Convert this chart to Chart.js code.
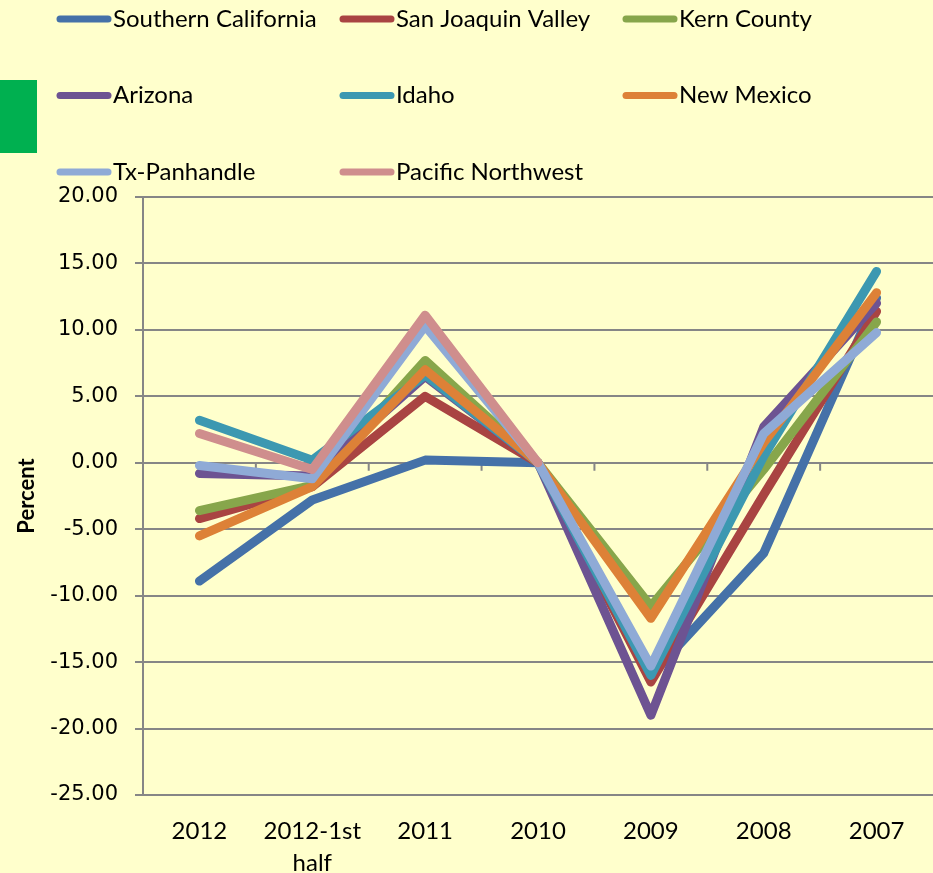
<!DOCTYPE html>
<html>
<head>
<meta charset="utf-8">
<script src="https://cdn.jsdelivr.net/npm/chart.js@4"></script>
<style>
  html, body { margin: 0; padding: 0; background: #FFFFCC; }
  canvas { display: block; }
</style>
</head>
<body>
<canvas id="myChart" width="933" height="873"></canvas>
<script>
// categories along the x axis
var periods = ['2012', ['2012-1st', 'half'], '2011', '2010', '2009', '2008', '2007'];

// series values (percent)
var southernCalifornia = [-8.9, -2.8, 0.2, 0.0, -16.0, -6.8, 12.4];
var sanJoaquinValley   = [-4.2, -1.8, 5.0, 0.0, -16.5, -2.4, 11.4];
var kernCounty         = [-3.6, -1.7, 7.7, 0.0, -10.8, -0.5, 10.6];
var arizona            = [-0.8, -1.0, 6.5, 0.0, -19.0, 2.7, 12.0];
var idaho              = [3.2, 0.2, 6.6, 0.0, -16.0, 0.5, 14.4];
var newMexico          = [-5.5, -1.8, 7.0, 0.0, -11.7, 1.5, 12.8];
var txPanhandle        = [-0.2, -1.2, 10.3, 0.0, -15.3, 2.2, 9.8];
var pacificNorthwest   = [2.2, -0.5, 11.1, 0.0, null, null, null];

var seriesNames = ['Southern California', 'San Joaquin Valley', 'Kern County',
                   'Arizona', 'Idaho', 'New Mexico', 'Tx-Panhandle', 'Pacific Northwest'];
var seriesData = [southernCalifornia, sanJoaquinValley, kernCounty,
                  arizona, idaho, newMexico, txPanhandle, pacificNorthwest];
var seriesColors = ['#4571A8', '#A94442', '#87A64B', '#6D5392',
                    '#3C98B1', '#DD8137', '#8FAAD6', '#CF8E8D'];

var datasets = seriesNames.map(function (name, i) {
    return {
        label: name,
        data: seriesData[i],
        borderColor: seriesColors[i],
        backgroundColor: seriesColors[i],
        borderWidth: 9,
        borderCapStyle: 'round',
        borderJoinStyle: 'round',
        pointRadius: 0,
        tension: 0,
        order: seriesNames.length - i // later series drawn on top
    };
});

// legend in three fixed columns, plus the small green block at the left
var gridLegend = {
    id: 'gridLegend',
    afterDraw: function (chart) {
        var c = chart.ctx;
        c.save();
        c.fillStyle = '#00B050';
        c.fillRect(0, 80, 37, 73);
        c.font = '24px Lato';
        c.textBaseline = 'middle';
        chart.data.datasets.forEach(function (ds, i) {
            var col = i % 3, row = Math.floor(i / 3);
            var x = 57 + col * 283;
            var y = 19 + row * 76.5;
            c.strokeStyle = ds.borderColor;
            c.lineWidth = 7;
            c.lineCap = 'round';
            c.beginPath();
            c.moveTo(x + 3, y);
            c.lineTo(x + 51, y);
            c.stroke();
            c.fillStyle = '#000';
            c.fillText(ds.label, x + 56, y);
        });
        c.restore();
    }
};

// small tick marks on the zero line at category boundaries
var zeroTicks = {
    id: 'zeroTicks',
    beforeDatasetsDraw: function (chart) {
        var xs = chart.scales.x, ys = chart.scales.y;
        var y0 = ys.getPixelForValue(0);
        var c = chart.ctx;
        c.save();
        c.strokeStyle = '#868686';
        c.lineWidth = 2;
        c.beginPath();
        for (var i = 1; i < periods.length; i++) {
            var bx = (xs.getPixelForValue(i - 1) + xs.getPixelForValue(i)) / 2;
            c.moveTo(bx, y0);
            c.lineTo(bx, y0 + 8);
        }
        c.stroke();
        c.restore();
    }
};

var ctx = document.getElementById('myChart').getContext('2d');
var myChart = new Chart(ctx, {
    type: 'line',
    data: {
        labels: periods,
        datasets: datasets
    },
    options: {
        responsive: false,
        animation: false,
        layout: {
            padding: { top: 197, right: 0, bottom: 0, left: 0 }
        },
        plugins: {
            legend: { display: false },
            tooltip: { enabled: false }
        },
        scales: {
            x: {
                offset: true,
                grid: { display: false, drawTicks: false },
                border: { display: true, color: '#868686', width: 2 },
                ticks: {
                    color: '#000',
                    font: { family: 'Lato', size: 24, lineHeight: 1.3 },
                    padding: 21,
                    maxRotation: 0,
                    autoSkip: false
                },
                afterFit: function (scale) { scale.height = 78; }
            },
            y: {
                min: -25,
                max: 20,
                grid: {
                    color: '#868686',
                    lineWidth: 2,
                    tickLength: 8
                },
                border: { display: true, color: '#868686', width: 2 },
                ticks: {
                    stepSize: 5,
                    color: '#000',
                    font: { family: 'DejaVu Sans', size: 21 },
                    padding: 17,
                    callback: function (v) { return v.toFixed(2); }
                },
                title: {
                    display: true,
                    text: 'Percent',
                    color: '#000',
                    font: { family: 'Lato', size: 22, weight: 'bold' },
                    padding: { top: 14, bottom: 0 }
                },
                afterFit: function (scale) { scale.width = 143; }
            }
        }
    },
    plugins: [zeroTicks, gridLegend]
});
</script>
</body>
</html>
